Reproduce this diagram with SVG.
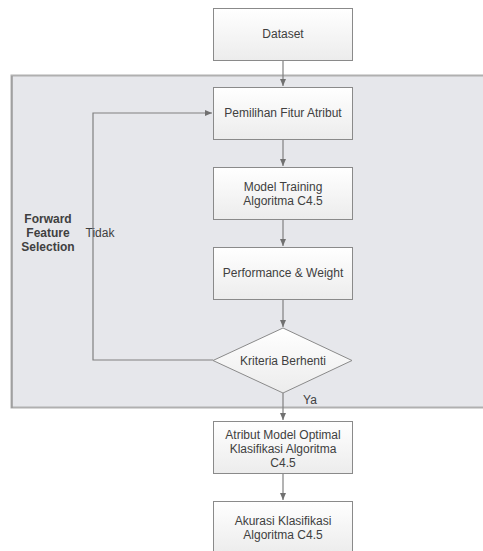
<svg xmlns="http://www.w3.org/2000/svg" width="483" height="551" viewBox="0 0 483 551">
<style>
.box{fill:url(#g);stroke:#8a8a8a;stroke-width:1}
.t{font-family:"Liberation Sans",Arial,sans-serif;font-size:12px;fill:#404040;text-anchor:middle}
.c{fill:none;stroke:#808080;stroke-width:1.2}
</style>
<defs>
<linearGradient id="g" x1="0" y1="0" x2="0" y2="1">
<stop offset="0" stop-color="#ffffff"/>
<stop offset="1" stop-color="#ececec"/>
</linearGradient>
<marker id="a" markerWidth="8" markerHeight="8" refX="7" refY="4" orient="auto" markerUnits="userSpaceOnUse">
<path d="M0,1 L7,4 L0,7 Z" fill="#707070"/>
</marker>
</defs>
<rect width="483" height="551" fill="#ffffff"/>
<g id="region">
<rect x="11.5" y="75.5" width="475" height="332" fill="#e6e7eb" stroke="#b0b0b0" stroke-width="2"/>
<line x1="12" y1="76" x2="12" y2="408" stroke="#909090" stroke-width="1"/>
<text class="t" x="48" y="223" font-weight="bold" font-size="12.5">Forward</text>
<text class="t" x="48" y="237" font-weight="bold" font-size="12.5">Feature</text>
<text class="t" x="48" y="251" font-weight="bold" font-size="12.5">Selection</text>
</g>
<g id="connectors">
<line class="c" x1="283" y1="60" x2="283" y2="86" marker-end="url(#a)"/>
<line class="c" x1="283" y1="140" x2="283" y2="166" marker-end="url(#a)"/>
<line class="c" x1="283" y1="220" x2="283" y2="246" marker-end="url(#a)"/>
<line class="c" x1="283" y1="299" x2="283" y2="327" marker-end="url(#a)"/>
<polyline class="c" points="213,360 93,360 93,113 212,113" marker-end="url(#a)"/>
<line class="c" x1="283" y1="393" x2="283" y2="420" marker-end="url(#a)"/>
<line class="c" x1="283" y1="473" x2="283" y2="500" marker-end="url(#a)"/>
<text class="t" x="100" y="237" text-anchor="start">Tidak</text>
<text class="t" x="310" y="404" text-anchor="start">Ya</text>
</g>
<g id="dataset">
<rect class="box" x="213.5" y="8.5" width="139" height="52"/>
<text class="t" x="283" y="38">Dataset</text>
</g>
<g id="pemilihan">
<rect class="box" x="213.5" y="87.5" width="139" height="52"/>
<text class="t" x="283" y="117">Pemilihan Fitur Atribut</text>
</g>
<g id="training">
<rect class="box" x="213.5" y="167.5" width="139" height="52"/>
<text class="t" x="283" y="191">Model Training</text>
<text class="t" x="283" y="205">Algoritma C4.5</text>
</g>
<g id="performance">
<rect class="box" x="213.5" y="247.5" width="139" height="52"/>
<text class="t" x="283" y="277">Performance &amp; Weight</text>
</g>
<g id="kriteria">
<polygon class="box" points="283,328 352,360.5 283,393 213,360.5"/>
<text class="t" x="283" y="365">Kriteria Berhenti</text>
</g>
<g id="atribut">
<rect class="box" x="213.5" y="421.5" width="139" height="52"/>
<text class="t" x="283" y="439">Atribut Model Optimal</text>
<text class="t" x="283" y="453">Klasifikasi Algoritma</text>
<text class="t" x="283" y="467">C4.5</text>
</g>
<g id="akurasi">
<rect class="box" x="213.5" y="501.5" width="139" height="52"/>
<text class="t" x="283" y="525">Akurasi Klasifikasi</text>
<text class="t" x="283" y="539">Algoritma C4.5</text>
</g>
</svg>
